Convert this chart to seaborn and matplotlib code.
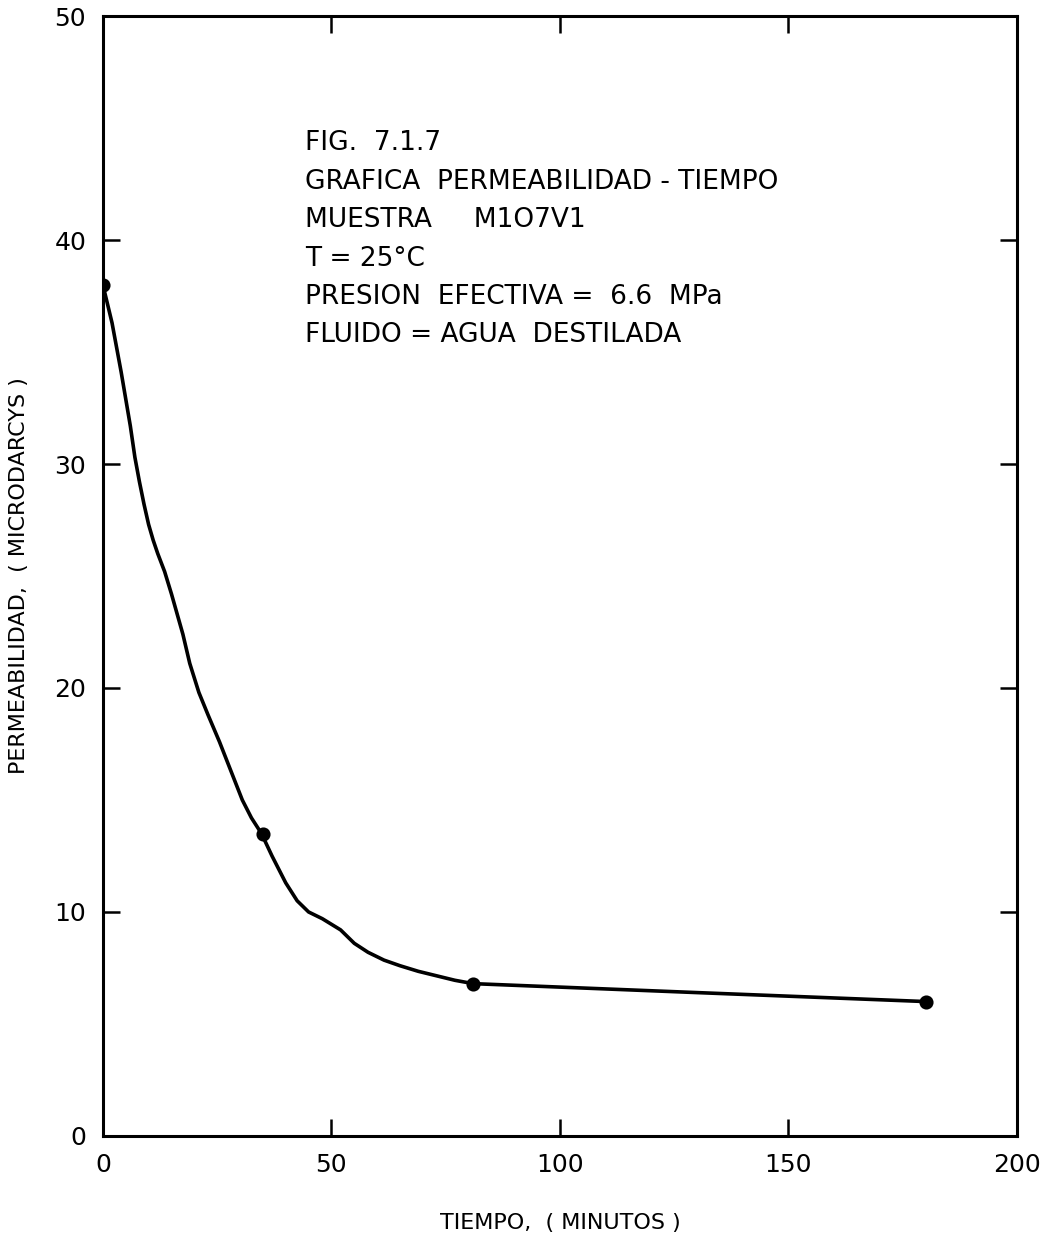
import seaborn as sns
import pandas as pd
import matplotlib.pyplot as plt

# curva trazada
curva_t = [0, 2, 4, 6, 7, 8, 9, 10, 11, 12, 13.5, 15, 17.5, 19, 21, 23, 25.5, 28, 30.5, 32.5,
           34.7, 37, 40, 42.5, 45, 48, 52, 55, 58, 61.5, 65, 69, 73, 77, 81, 130, 180]
curva_k = [38, 36.3, 34.1, 31.7, 30.3, 29.2, 28.2, 27.3, 26.6, 26.0, 25.2, 24.2, 22.4, 21.1, 19.8,
           18.8, 17.6, 16.3, 15.0, 14.2, 13.5, 12.5, 11.3, 10.5, 10.0, 9.7, 9.2, 8.6, 8.2, 7.85,
           7.6, 7.35, 7.15, 6.95, 6.8, 6.4, 6.0]

# puntos medidos
tiempo = [0, 35, 81, 180]
permeabilidad = [38, 13.5, 6.8, 6.0]

xticks = [0, 50, 100, 150, 200]
yticks = [0, 10, 20, 30, 40, 50]

nota = ("FIG.  7.1.7\n"
        "GRAFICA  PERMEABILIDAD - TIEMPO\n"
        "MUESTRA     M1O7V1\n"
        "T = 25°C\n"
        "PRESION  EFECTIVA =  6.6  MPa\n"
        "FLUIDO = AGUA  DESTILADA")

curva = pd.DataFrame({'t': curva_t, 'k': curva_k})
puntos = pd.DataFrame({'t': tiempo, 'k': permeabilidad})

sns.set_style('ticks')
plt.rcParams['font.family'] = ['DejaVu Sans']
plt.rcParams['text.color'] = 'black'
plt.rcParams['axes.labelcolor'] = 'black'

fig = plt.figure(figsize=(10.5, 12.37), dpi=100)
ax = fig.add_axes([0.098, 0.0817, 0.8706, 0.9053])

sns.lineplot(data=curva, x='t', y='k', sort=False, color='black', linewidth=2.6, ax=ax)
sns.scatterplot(data=puntos, x='t', y='k', color='black', s=75, edgecolor='black',
                linewidth=1.5, zorder=5, ax=ax)

ax.set_xlim(0, 200)
ax.set_ylim(0, 50)
ax.set_xticks(xticks)
ax.set_yticks(yticks)
ax.tick_params(direction='in', length=12, width=1.8, labelsize=18, pad=12,
               top=True, right=True, colors='black')
for s in ax.spines.values():
    s.set_linewidth(2.2)
    s.set_color('black')

ax.set_xlabel('TIEMPO,  ( MINUTOS )', fontsize=16, labelpad=26)
ax.set_ylabel('PERMEABILIDAD,  ( MICRODARCYS )', fontsize=16, labelpad=18)

ax.text(44.2, 44.9, nota, fontsize=19, va='top', ha='left', linespacing=1.62)

fig.savefig('out.png', dpi=100)
